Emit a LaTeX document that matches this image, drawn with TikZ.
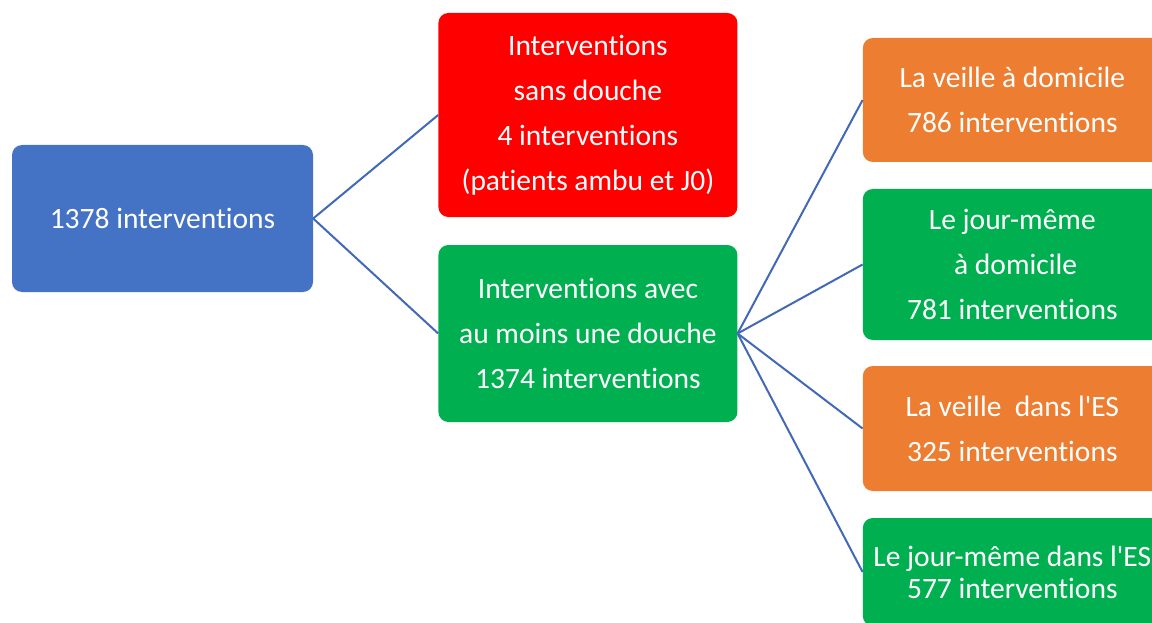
\documentclass[tikz,border=0pt]{standalone}
\usepackage{fontspec}
\newfontfamily\calibri{Carlito}[Ligatures=NoCommon]
\usepackage{xcolor}
\usepackage{tikz}
\usetikzlibrary{positioning}
\definecolor{bleu}{HTML}{4472C4}
\definecolor{rouge}{HTML}{FF0000}
\definecolor{vert}{HTML}{00B050}
\definecolor{orange}{HTML}{ED7D31}
\definecolor{trait}{HTML}{4268B8}
\tikzstyle{boite}=[rectangle, rounded corners=10pt, inner sep=0pt, minimum width=299pt, text=white, align=center, font=\calibri\fontsize{29.5}{45}\selectfont]
\tikzstyle{lien}=[draw=trait, line width=2pt]

\begin{document}
\begin{tikzpicture}[x=1pt, y=-1pt]
	\clip (0,0) rectangle (1152,623);

	\node[boite, fill=bleu, minimum width=301pt, minimum height=147pt] (total) at (162.5,218.5) {1378 interventions};

	\node[boite, fill=rouge, minimum height=204pt] (sans) [right=125pt of total, yshift=103.5pt] {Interventions\\sans douche\\4 interventions\\(patients ambu et J0)};
	\node[boite, fill=vert, minimum height=177pt] (avec) [right=125pt of total, yshift=-115pt] {Interventions avec\\au moins une douche\\1374 interventions};

	\node[boite, fill=orange, minimum height=124pt] (veilledom) [right=125pt of avec, yshift=233.5pt] {La veille à domicile\\786 interventions};
	\node[boite, fill=vert, minimum height=151pt] (jourdom) [right=125pt of avec, yshift=69pt] {Le jour-même\\\ à domicile\\781 interventions};
	\node[boite, fill=orange, minimum height=125pt] (veillees) [right=125pt of avec, yshift=-95pt] {La veille\ \ dans l'ES\\325 interventions};
	\node[boite, fill=vert, minimum height=108pt, font=\calibri\fontsize{29.5}{32}\selectfont] (jourees) [right=125pt of avec, yshift=-238.5pt] {Le jour-même dans l'ES\\577 interventions};

	\path[lien] (total.east) -- (sans.west);
	\path[lien] (total.east) -- (avec.west);
	\foreach \cible in {veilledom, jourdom, veillees, jourees}
		\path[lien] (avec.east) -- (\cible.west);
\end{tikzpicture}
\end{document}
